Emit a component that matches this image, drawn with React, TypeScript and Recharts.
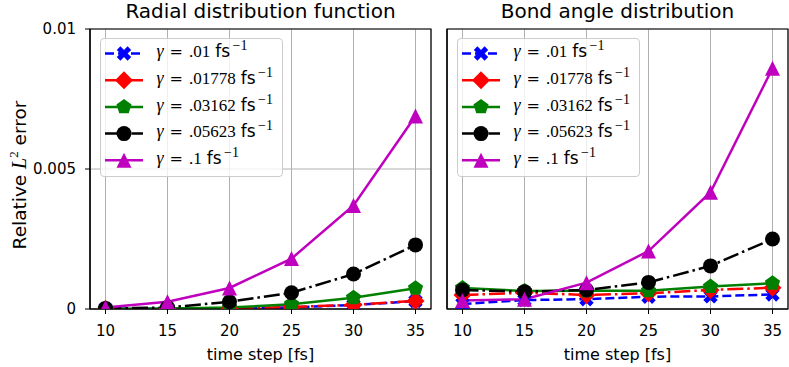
import React from 'react';
import { LineChart, Line, XAxis, YAxis, CartesianGrid, ReferenceArea, Legend } from 'recharts';

// ---------- data ----------
const timeSteps = [10, 15, 20, 25, 30, 35];
const xTicks = [10, 15, 20, 25, 30, 35];
const yTicks = [0, 0.005, 0.01];
const yTickLabels = ['0', '0.005', '0.01'];
const gammaLabels = ['.01', '.01778', '.03162', '.05623', '.1'];
const panelTitles = ['Radial distribution function', 'Bond angle distribution'];
const xAxisLabel = 'time step [fs]';

// Radial distribution function
const rdfGamma01 = [0.00001, 0.00001, 0.00002, 0.00006, 0.00014, 0.00028];
const rdfGamma01778 = [0.00001, 0.00001, 0.00002, 0.00007, 0.00015, 0.00029];
const rdfGamma03162 = [0.00001, 0.00002, 0.00005, 0.00017, 0.0004, 0.00074];
const rdfGamma05623 = [0.00002, 0.00005, 0.00026, 0.00058, 0.00125, 0.00229];
const rdfGamma1 = [0.00005, 0.00026, 0.00075, 0.0018, 0.0037, 0.00689];

// Bond angle distribution
const badGamma01 = [0.00018, 0.00032, 0.00035, 0.00044, 0.00045, 0.00052];
const badGamma01778 = [0.0005, 0.00058, 0.0005, 0.00056, 0.00068, 0.00076];
const badGamma03162 = [0.00075, 0.00064, 0.00065, 0.00065, 0.0008, 0.00092];
const badGamma05623 = [0.00068, 0.00062, 0.00068, 0.00095, 0.00154, 0.0025];
const badGamma1 = [0.0003, 0.00035, 0.00094, 0.00207, 0.00417, 0.0086];

// ---------- styles ----------
const seriesColors = ['#0000ff', '#ff0000', '#008000', '#000000', '#bf00bf'];
const seriesDashes = ['9 4', '16 4 2.5 4', undefined, '16 4 2.5 4', undefined];
const seriesShapes = ['X', 'D', 'p', 'o', '^'];
const seriesKeys = ['g0', 'g1', 'g2', 'g3', 'g4'];

const X_DOMAIN: [number, number] = [8.75, 36.25];
const Y_DOMAIN: [number, number] = [0, 0.01];
const TICK_FONT = { fontFamily: 'DejaVu Sans', fontSize: 15, fill: '#000' };

function buildRows(series: number[][]) {
  return timeSteps.map((t, i) => {
    const row: Record<string, number> = { t };
    series.forEach((s, k) => (row[seriesKeys[k]] = s[i]));
    return row;
  });
}

const rdfData = buildRows([rdfGamma01, rdfGamma01778, rdfGamma03162, rdfGamma05623, rdfGamma1]);
const badData = buildRows([badGamma01, badGamma01778, badGamma03162, badGamma05623, badGamma1]);

function Marker({ shape, cx, cy, color }: { shape: string; cx: number; cy: number; color: string }) {
  if (cx == null || cy == null || isNaN(cx) || isNaN(cy)) return null;
  if (shape === 'o') return <circle cx={cx} cy={cy} r={7.5} fill={color} />;
  if (shape === 'D') {
    const h = 9;
    return <polygon points={`${cx},${cy - h} ${cx + h},${cy} ${cx},${cy + h} ${cx - h},${cy}`} fill={color} />;
  }
  if (shape === 'p') {
    const r = 8;
    const pts = [0, 1, 2, 3, 4]
      .map((k) => {
        const a = (-90 + 72 * k) * (Math.PI / 180);
        return `${cx + r * Math.cos(a)},${cy + r * Math.sin(a)}`;
      })
      .join(' ');
    return <polygon points={pts} fill={color} />;
  }
  if (shape === '^') {
    const h = 7.5;
    return <polygon points={`${cx},${cy - h} ${cx + h},${cy + h} ${cx - h},${cy + h}`} fill={color} />;
  }
  // filled X
  const base = [[-1, -2], [0, -1], [1, -2], [2, -1], [1, 0], [2, 1], [1, 2], [0, 1], [-1, 2], [-2, 1], [-1, 0], [-2, -1]];
  const s = 3.6;
  const pts = base.map(([x, y]) => `${cx + x * s},${cy + y * s}`).join(' ');
  return <polygon points={pts} fill={color} />;
}

function LegendBox() {
  const rowH = 26.7;
  return (
    <div
      style={{
        width: 183,
        height: 139,
        boxSizing: 'border-box',
        border: '1px solid #cccccc',
        borderRadius: 4,
        background: 'rgba(255,255,255,0.8)',
      }}
    >
      <svg width={181} height={137} style={{ display: 'block', overflow: 'visible' }}>
        {gammaLabels.map((g, k) => {
          const cy = 14.5 + k * rowH;
          const base = 18.2 + k * rowH;
          return (
            <g key={g}>
              <line x1={4} x2={42} y1={cy} y2={cy} stroke={seriesColors[k]} strokeWidth={2.5} strokeDasharray={seriesDashes[k]} />
              <Marker shape={seriesShapes[k]} cx={23} cy={cy} color={seriesColors[k]} />
              <text x={55.5} y={base} fill="#000" style={{ fontFamily: 'Liberation Serif', fontSize: '17px' }}>
                <tspan style={{ fontStyle: 'italic', fontSize: '18px' }}>γ</tspan>
                <tspan dx={6} style={{ fontFamily: 'DejaVu Serif', fontSize: '16px' }}>=</tspan>
                <tspan dx={6}>{g}</tspan>
                <tspan dx={5} style={{ fontFamily: 'DejaVu Sans', fontSize: '17px' }}>fs</tspan>
                <tspan dx={2.5} dy={-7} style={{ fontSize: '14px' }}>−1</tspan>
              </text>
            </g>
          );
        })}
      </svg>
    </div>
  );
}

function Panel({ data, showYLabels, width, marginLeft, marginRight, yAxisWidth, legendLeft }: any) {
  return (
    <LineChart
      width={width}
      height={367}
      data={data}
      margin={{ top: 29, right: marginRight, bottom: 28, left: marginLeft }}
    >
      <CartesianGrid stroke="#b0b0b0" strokeWidth={1} />
      <XAxis
        dataKey="t"
        type="number"
        domain={X_DOMAIN}
        ticks={xTicks}
        allowDataOverflow
        height={30}
        tickSize={5}
        tickMargin={11}
        tick={TICK_FONT}
        axisLine={{ stroke: '#000', strokeWidth: 1.2 }}
        tickLine={{ stroke: '#000', strokeWidth: 1 }}
      />
      <YAxis
        type="number"
        domain={Y_DOMAIN}
        ticks={yTicks}
        allowDataOverflow
        width={yAxisWidth}
        tickSize={5}
        tickMargin={9}
        tick={showYLabels ? TICK_FONT : false}
        tickFormatter={(v: number) => yTickLabels[yTicks.indexOf(v)] ?? String(v)}
        axisLine={{ stroke: '#000', strokeWidth: 1.2 }}
        tickLine={{ stroke: '#000', strokeWidth: 1 }}
      />
      <ReferenceArea
        x1={X_DOMAIN[0]}
        x2={X_DOMAIN[1]}
        y1={Y_DOMAIN[0]}
        y2={Y_DOMAIN[1]}
        fill="none"
        fillOpacity={0}
        stroke="#000"
        strokeWidth={1.2}
        ifOverflow="visible"
      />
      {seriesKeys.map((key, k) => (
        <Line
          key={key}
          dataKey={key}
          stroke={seriesColors[k]}
          strokeWidth={2.5}
          strokeDasharray={seriesDashes[k]}
          isAnimationActive={false}
          activeDot={false}
          dot={(p: any) => <Marker key={`${key}-${p.index}`} shape={seriesShapes[k]} cx={p.cx} cy={p.cy} color={seriesColors[k]} />}
        />
      ))}
      <Legend
        layout="horizontal"
        align="center"
        verticalAlign="middle"
        wrapperStyle={{ left: legendLeft, top: 37.5, width: 183, height: 139 }}
        content={() => <LegendBox />}
      />
    </LineChart>
  );
}

export default function App() {
  return (
    <div style={{ position: 'absolute', left: 0, top: 0, width: 789, height: 367, background: '#fff', overflow: 'hidden' }}>
      <div style={{ position: 'absolute', left: 0, top: 0 }}>
        <Panel data={rdfData} showYLabels width={440} marginLeft={30} marginRight={9} yAxisWidth={60} legendLeft={100} />
      </div>
      <div style={{ position: 'absolute', left: 440, top: 0 }}>
        <Panel data={badData} showYLabels={false} width={349} marginLeft={0} marginRight={1} yAxisWidth={7} legendLeft={17} />
      </div>
      <svg width={789} height={367} style={{ position: 'absolute', left: 0, top: 0, pointerEvents: 'none' }}>
        <text x={260.5} y={18} textAnchor="middle" fontFamily="DejaVu Sans" fontSize={20} fill="#000">{panelTitles[0]}</text>
        <text x={617.5} y={18} textAnchor="middle" fontFamily="DejaVu Sans" fontSize={20} fill="#000">{panelTitles[1]}</text>
        <text x={260.5} y={360} textAnchor="middle" fontFamily="DejaVu Sans" fontSize={16} fill="#000">{xAxisLabel}</text>
        <text x={617.5} y={360} textAnchor="middle" fontFamily="DejaVu Sans" fontSize={16} fill="#000">{xAxisLabel}</text>
        <text transform="translate(26,175) rotate(-90)" textAnchor="middle" fontFamily="DejaVu Sans" fontSize={18.5} fill="#000">
          <tspan>Relative </tspan>
          <tspan fontFamily="Liberation Serif" fontStyle="italic" fontSize={20}>L</tspan>
          <tspan fontFamily="Liberation Serif" fontSize={13} dy={-8}>2</tspan>
          <tspan dy={8}> error</tspan>
        </text>
      </svg>
    </div>
  );
}
